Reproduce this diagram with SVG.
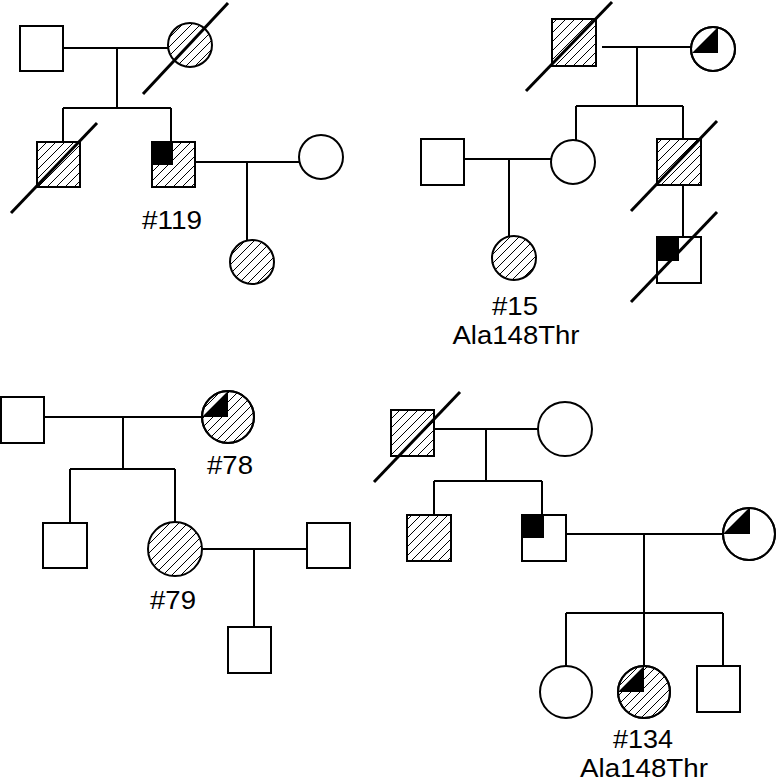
<svg xmlns="http://www.w3.org/2000/svg" width="777" height="784" viewBox="0 0 777 784">
<defs>
<pattern id="hatch" patternUnits="userSpaceOnUse" width="9" height="9">
<path d="M-2,2 L2,-2 M0,9 L9,0 M7,11 L11,7" stroke="#000" stroke-width="1"/>
</pattern>
<style>
.o{fill:#fff;stroke:#000;stroke-width:2}
.h{fill:url(#hatch);stroke:#000;stroke-width:2}
.b{fill:#000;stroke:none}
.d{stroke:#000;stroke-width:3;fill:none}
.c{stroke:#000;stroke-width:2;fill:none}
text{font-family:"Liberation Sans",Arial,sans-serif;font-size:25px;fill:#000;text-anchor:middle}
</style>
</defs>
<rect width="777" height="784" fill="#fff"/>
<g id="connectors">
<path class="c" d="M63,48H168M117,48V108M63,108H171M63,108V142M171,108V142M195,162H299M247,162V240"/>
<path class="c" d="M602,47H692M637,47V106M576,106H683M576,106V140M683,106V139M683,185V237M464,159H552M509,159V236"/>
<path class="c" d="M44,417H202M123,417V469M70,469H175M70,469V523M175,469V522M202,549H307M254,549V627"/>
<path class="c" d="M434,429H538M486,429V481M434,481H542M434,481V515M542,481V515M566,534H723M644,534V613M566,613H723M566,613V666M644,613V666M723,613V666"/>
</g>
<g id="p1-father"><rect class="o" x="20" y="26" width="43" height="45"/></g>
<g id="p1-mother"><circle class="h" cx="190" cy="45" r="22"/><line class="d" x1="143" y1="94" x2="228" y2="3"/></g>
<g id="p1-son1"><rect class="h" x="37" y="142" width="43" height="45"/><line class="d" x1="11" y1="213" x2="97" y2="123"/></g>
<g id="p1-son2"><rect class="h" x="152" y="142" width="43" height="45"/><rect class="b" x="152" y="142" width="21" height="23"/><rect class="c" x="152" y="142" width="43" height="45"/><text x="172" y="229" textLength="60" lengthAdjust="spacingAndGlyphs">#119</text></g>
<g id="p1-spouse"><circle class="o" cx="321" cy="157" r="22"/></g>
<g id="p1-daughter"><circle class="h" cx="252" cy="262" r="22"/></g>

<g id="p2-grandfather"><rect class="h" x="552" y="19" width="44" height="47"/><line class="d" x1="526" y1="91" x2="612" y2="2"/></g>
<g id="p2-grandmother"><circle class="o" cx="713" cy="49" r="22"/><polygon class="b" points="692,53 718,27 718,53"/><circle class="c" cx="713" cy="49" r="22"/></g>
<g id="p2-daughter"><circle class="o" cx="573" cy="162" r="22"/></g>
<g id="p2-son"><rect class="h" x="657" y="139" width="44" height="46"/><line class="d" x1="631" y1="211" x2="717" y2="121"/></g>
<g id="p2-grandson"><rect class="o" x="657" y="237" width="44" height="46"/><rect class="b" x="657" y="237" width="22" height="24"/><rect class="c" x="657" y="237" width="44" height="46"/><line class="d" x1="631" y1="302" x2="717" y2="212"/></g>
<g id="p2-husband"><rect class="o" x="421" y="139" width="43" height="46"/></g>
<g id="p2-proband"><circle class="h" cx="514" cy="258" r="22"/><text x="515" y="315" textLength="46" lengthAdjust="spacingAndGlyphs">#15</text><text x="516" y="344" textLength="127" lengthAdjust="spacingAndGlyphs">Ala148Thr</text></g>

<g id="p3-father"><rect class="o" x="1" y="397" width="43" height="46"/></g>
<g id="p3-mother"><circle class="h" cx="228" cy="417" r="26"/><polygon class="b" points="202,417 228,391 228,417"/><circle class="c" cx="228" cy="417" r="26"/><text x="230" y="474" textLength="46" lengthAdjust="spacingAndGlyphs">#78</text></g>
<g id="p3-son"><rect class="o" x="43" y="523" width="44" height="45"/></g>
<g id="p3-daughter"><circle class="h" cx="175" cy="549" r="27"/><text x="173" y="609" textLength="46" lengthAdjust="spacingAndGlyphs">#79</text></g>
<g id="p3-husband"><rect class="o" x="307" y="523" width="43" height="45"/></g>
<g id="p3-grandson"><rect class="o" x="228" y="627" width="43" height="46"/></g>

<g id="p4-grandfather"><rect class="h" x="391" y="410" width="43" height="46"/><line class="d" x1="374" y1="482" x2="460" y2="392"/></g>
<g id="p4-grandmother"><circle class="o" cx="565" cy="429" r="27"/></g>
<g id="p4-son1"><rect class="h" x="407" y="515" width="44" height="46"/></g>
<g id="p4-son2"><rect class="o" x="522" y="515" width="44" height="46"/><rect class="b" x="522" y="515" width="22" height="23"/><rect class="c" x="522" y="515" width="44" height="46"/></g>
<g id="p4-wife"><circle class="o" cx="749" cy="534" r="26"/><polygon class="b" points="723,534 750,507 750,534"/><circle class="c" cx="749" cy="534" r="26"/></g>
<g id="p4-child1"><circle class="o" cx="566" cy="692" r="26"/></g>
<g id="p4-proband"><circle class="h" cx="644" cy="692" r="26"/><polygon class="b" points="618,692 644,666 644,692"/><circle class="c" cx="644" cy="692" r="26"/><text x="643" y="748" textLength="60" lengthAdjust="spacingAndGlyphs">#134</text><text x="644" y="777" textLength="128" lengthAdjust="spacingAndGlyphs">Ala148Thr</text></g>
<g id="p4-child3"><rect class="o" x="697" y="666" width="43" height="46"/></g>
</svg>
